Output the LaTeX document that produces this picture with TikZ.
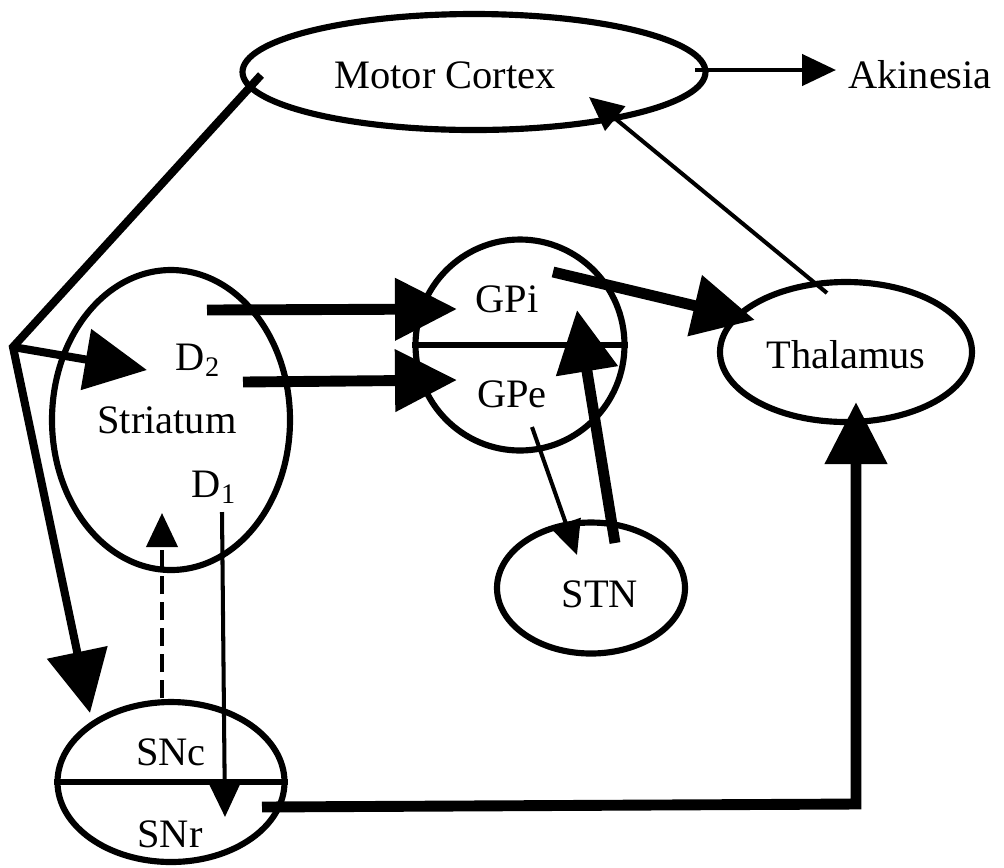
\documentclass[tikz,border=0pt]{standalone}
\usepackage{fontspec}
\setmainfont{Liberation Serif}
\usetikzlibrary{arrows.meta,shapes.geometric}
\begin{document}
\begin{tikzpicture}[x=0.02cm,y=-0.02cm,
  region/.style={draw, ellipse, line width=3.5pt, inner sep=0pt},
  lbl/.style={anchor=base, inner sep=0pt, font=\fontsize{23}{27}\selectfont},
  thick arrow/.style={line width=6.2pt, -{Triangle[length=1.24cm,width=1.2cm]}},
  mid line/.style={line width=4.6pt, line join=miter},
  thin arrow/.style={line width=2.3pt, -{Triangle[length=0.68cm,width=0.62cm]}},
  divider/.style={line width=3.2pt}
]
\useasboundingbox (0,0) rectangle (1004,867);

% regions
\node[region, minimum width=463*0.02cm, minimum height=116*0.02cm] (MC) at (474,72) {};
\node[region, minimum width=238*0.02cm, minimum height=300*0.02cm] (Str) at (171,420) {};
\node[region, minimum width=209*0.02cm, minimum height=211*0.02cm] (GP) at (520,345) {};
\node[region, minimum width=188*0.02cm, minimum height=131*0.02cm] (STN) at (591,588) {};
\node[region, minimum width=252*0.02cm, minimum height=140*0.02cm] (Thal) at (846,352) {};
\node[region, minimum width=227*0.02cm, minimum height=160*0.02cm] (SN) at (171,782) {};

\draw[divider] (GP.west) -- (GP.east);
\draw[divider] (SN.west) -- (SN.east);

% labels
\node[lbl] (tMC) at (445,88) {Motor Cortex};
\node[lbl] (tAk) at (920,88) {Akinesia};
\node[lbl] (tD2) at (198,370) {D\textsubscript{2}};
\node[lbl] (tStr) at (167,433) {Striatum};
\node[lbl] (tD1) at (214,497) {D\textsubscript{1}};
\node[lbl] (tGPi) at (507,312) {GPi};
\node[lbl] (tGPe) at (512,407) {GPe};
\node[lbl] (tSTN) at (600,607) {STN};
\node[lbl] (tThal) at (846,368) {Thalamus};
\node[lbl] (tSNc) at (171,765) {SNc};
\node[lbl] (tSNr) at (170,847) {SNr};

% connector end points
\coordinate (mcOut) at (261,75);
\coordinate (vtx) at (13,347);
\coordinate (d2In) at (147,370);
\coordinate (snIn) at (90,713);
\coordinate (d2OutA) at (207,310);
\coordinate (gpiIn) at (457,309);
\coordinate (d2OutB) at (243,382);
\coordinate (gpeIn) at (457,380);
\coordinate (gpiOut) at (553,272);
\coordinate (thalInA) at (755,320);
\coordinate (stnOutA) at (615,543);
\coordinate (gpInB) at (577,310);
\coordinate (gpeOut) at (532,427);
\coordinate (stnIn) at (577,555);
\coordinate (thalOut) at (827,293);
\coordinate (mcIn) at (589,97);
\coordinate (mcOutR) at (695,70);
\coordinate (akIn) at (836,70);
\coordinate (d1Out) at (222,512);
\coordinate (snrIn) at (225,817);
\coordinate (sncOut) at (162,698);
\coordinate (strIn) at (162,513);
\coordinate (snrOut) at (262,807);
\coordinate (corner) at (856,804);
\coordinate (thalInB) at (856,402);

% connectors
\draw[mid line, -{Triangle[length=1.24cm,width=1.2cm]}] (mcOut) -- (vtx) -- (snIn);
\draw[mid line, -{Triangle[length=1.24cm,width=1.2cm]}] (vtx) -- (d2In);
\draw[thick arrow] (d2OutA) -- (gpiIn);
\draw[thick arrow] (d2OutB) -- (gpeIn);
\draw[thick arrow] (gpiOut) -- (thalInA);
\draw[thick arrow] (stnOutA) -- (gpInB);
\draw[thick arrow, line join=miter] (snrOut) -- (corner) -- (thalInB);
\draw[thin arrow] (gpeOut) -- (stnIn);
\draw[thin arrow] (thalOut) -- (mcIn);
\draw[thin arrow, line width=2.6pt] (mcOutR) -- (akIn);
\draw[thin arrow] (d1Out) -- (snrIn);
\draw[thin arrow, dash pattern=on 0.36cm off 0.16cm] (sncOut) -- (strIn);
\end{tikzpicture}
\end{document}
